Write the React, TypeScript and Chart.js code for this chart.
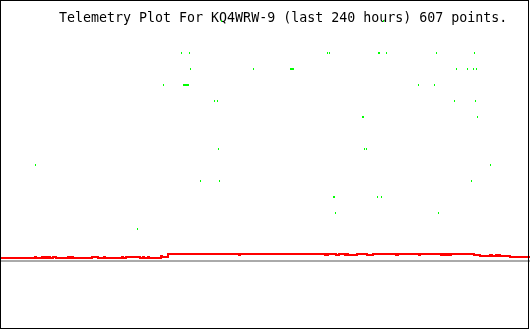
import React, { useEffect, useRef } from "react";
import { Chart, registerables } from "chart.js";

Chart.register(...registerables);

const TITLE = "Telemetry Plot For KQ4WRW-9 (last 240 hours) 607 points.";

// Green telemetry samples: time position and discrete level
const greenX = [
  110.75, 191.75,
  90.75, 94.75, 163.75, 164.75, 189.25, 189.75, 193.25, 218.25, 237.25,
  95.25, 126.75, 145.25, 145.75, 146.25, 146.75, 228.25, 233.75, 236.75, 238.25,
  81.75, 91.75, 92.25, 92.75, 93.25, 93.75, 94.25, 209.25, 217.25,
  107.25, 108.75, 227.25, 237.75,
  181.25, 181.75, 238.75,
  109.25, 182.25, 183.25,
  17.75, 245.25,
  100.25, 109.75, 235.75,
  166.75, 167.25, 188.75, 190.75,
  167.75, 219.25,
  68.75,
];
const greenLevel = [
  15, 15,
  13, 13, 13, 13, 13, 13, 13, 13, 13,
  12, 12, 12, 12, 12, 12, 12, 12, 12, 12,
  11, 11, 11, 11, 11, 11, 11, 11, 11,
  10, 10, 10, 10,
  9, 9, 9,
  7, 7, 7,
  6, 6,
  5, 5, 5,
  4, 4, 4, 4,
  3, 3,
  2,
];

// Red telemetry trace (change points, stepped)
const redX = [
  0, 17.5, 18, 21, 22, 23, 23.5, 24.5, 25, 26.5,
  28, 34, 35, 36, 36.5, 46, 49, 52, 52.5, 61,
  61.5, 63, 70, 71.5, 72, 74, 74.5, 80.5, 81, 84,
  119.5, 120, 162.5, 163, 163.5, 164, 168, 169.5, 172.5, 173,
  174, 178.5, 183.5, 186.5, 198, 199, 209.5, 210, 220.5, 221,
  222, 222.5, 223.5, 224, 225, 225.5, 237, 240, 245, 246,
  248, 248.5, 249.5, 250, 255, 265,
];
const redValue = [
  72, 73, 72, 73, 72, 73, 72, 73, 72, 73,
  72, 73, 72, 73, 72, 73, 72, 73, 72, 73,
  72, 73, 72, 73, 72, 73, 72, 74, 73, 76,
  75, 76, 75, 76, 75, 76, 75, 76, 75, 76,
  75, 76, 75, 76, 75, 76, 75, 76, 75, 76,
  75, 76, 75, 76, 75, 76, 75, 74, 75, 74,
  75, 74, 75, 74, 73, 73,
];

// Gray reference line
const baseX = [0, 265];
const baseLevel = [0, 0];

const titleBorderPlugin = {
  id: "titleBorder",
  beforeDatasetsDraw(chart: any) {
    const ctx = chart.ctx;
    ctx.save();
    ctx.fillStyle = "#000000";
    ctx.font = "13.3px 'DejaVu Sans Mono'";
    ctx.textAlign = "left";
    ctx.textBaseline = "alphabetic";
    ctx.fillText(TITLE, 59, 22);
    ctx.restore();
  },
  afterDraw(chart: any) {
    const ctx = chart.ctx;
    ctx.save();
    ctx.strokeStyle = "#000000";
    ctx.lineWidth = 1;
    ctx.strokeRect(0.5, 0.5, 528, 328);
    ctx.restore();
  },
};

export default function App() {
  const ref = useRef<HTMLCanvasElement | null>(null);

  useEffect(() => {
    if (!ref.current) return;
    const chart = new Chart(ref.current, {
      type: "scatter",
      data: {
        datasets: [
          {
            type: "scatter",
            label: "green",
            data: greenX.map((x, i) => ({ x, y: greenLevel[i] })),
            showLine: false,
            pointStyle: "line",
            pointRotation: 90,
            pointRadius: 1,
            pointBorderWidth: 1,
            pointBorderColor: "#00ff00",
            pointBackgroundColor: "#00ff00",
            borderColor: "#00ff00",
            backgroundColor: "#00ff00",
            yAxisID: "y",
          } as any,
          {
            type: "line",
            label: "red",
            data: redX.map((x, i) => ({ x, y: redValue[i] })),
            stepped: true,
            borderColor: "#ff0000",
            borderWidth: 2,
            borderJoinStyle: "miter",
            borderCapStyle: "butt",
            pointRadius: 0,
            fill: false,
            yAxisID: "y2",
          } as any,
          {
            type: "line",
            label: "base",
            data: baseX.map((x, i) => ({ x, y: baseLevel[i] })),
            borderColor: "#aaaaaa",
            borderWidth: 2,
            pointRadius: 0,
            fill: false,
            yAxisID: "y",
          } as any,
        ],
      },
      options: {
        animation: false,
        responsive: false,
        events: [],
        layout: { padding: 0, autoPadding: false },
        plugins: {
          legend: { display: false },
          tooltip: { enabled: false },
          title: { display: false },
        },
        scales: {
          x: { type: "linear", display: false, min: 0, max: 265 },
          y: { type: "linear", display: false, min: -4.3125, max: 16.3125 },
          y2: { type: "linear", display: false, min: 0, max: 330 },
        },
      } as any,
      plugins: [titleBorderPlugin],
    });
    return () => chart.destroy();
  }, []);

  return (
    <div style={{ position: "fixed", left: 0, top: 0, width: 530, height: 330, background: "#ffffff" }}>
      <canvas ref={ref} width={530} height={330} style={{ display: "block", width: 530, height: 330 }} />
    </div>
  );
}
